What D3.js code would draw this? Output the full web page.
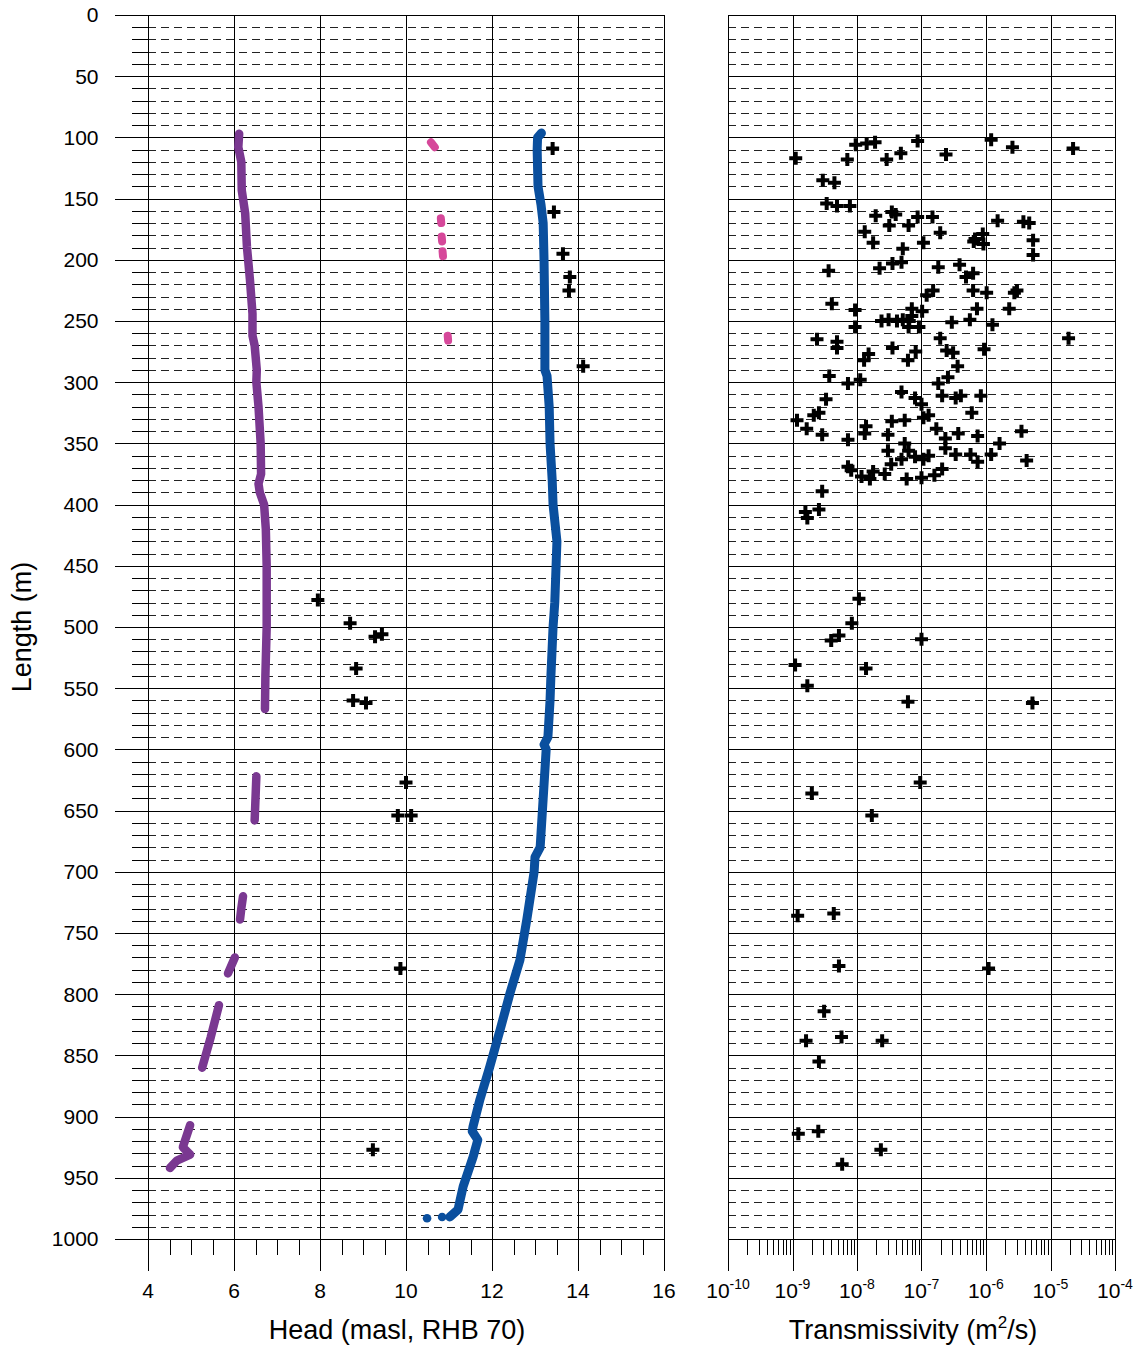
<!DOCTYPE html>
<html>
<head>
<meta charset="utf-8">
<script src="https://cdn.jsdelivr.net/npm/d3@7"></script>
<style>
  body { margin: 0; background: #fff; }
  svg { display: block; font-family: "Liberation Sans", Arial, sans-serif; }
</style>
</head>
<body>
<svg id="chart" width="1143" height="1349"></svg>
<script>
// ---- values ----
// head profiles, each point is [length (m), head (masl)]
var purpleSegments = [
  [[97,6.12],[108,6.10],[120,6.17],[143,6.18],[162,6.26],[189,6.30],[216,6.37],[244,6.43],[262,6.43],
   [270,6.48],[290,6.53],[300,6.52],[320,6.57],[350,6.62],[375,6.63],[383,6.57],[390,6.60],[400,6.70],
   [420,6.74],[450,6.76],[480,6.76],[500,6.76],[540,6.73],[567,6.72]],
  [[622,6.52],[640,6.50],[658,6.48]],
  [[720,6.21],[730,6.17],[739,6.14]],
  [[770,6.02],[783,5.86]],
  [[809,5.65],[835,5.46],[860,5.26]],
  [[907,4.98],[925,4.81],[931,4.98],[936,4.67],[942,4.51]]
];
var blueProfile = [
  [96.5,13.15],[100,13.06],[110,13.05],[140,13.07],[155,13.14],[170,13.19],[200,13.21],[250,13.23],
  [290,13.23],[295,13.28],[320,13.33],[350,13.35],[380,13.40],[400,13.42],[430,13.51],[450,13.49],
  [480,13.46],[500,13.42],[540,13.37],[560,13.35],[590,13.30],[596,13.21],[600,13.26],[640,13.19],
  [680,13.12],[688,13.00],[700,12.98],[739,12.81],[772,12.65],[799,12.42],[829,12.19],[859,11.95],
  [886,11.72],[908,11.56],[912,11.54],[919,11.67],[933,11.56],[957,11.33],[968,11.26],[976,11.21],[982,11.02]
];
var blueLoose = [[982,10.84],[983,10.49]];
var pinkSegments = [
  [[104,10.58],[108,10.67]],
  [[166,10.81],[170,10.82]],
  [[181,10.83],[185,10.84]],
  [[193,10.85],[197,10.86]],
  [[262,10.97],[266,10.98]]
];
var headCrosses = [
  [109,13.41],[161,13.44],[195,13.65],[214,13.81],[225,13.79],[287,14.12],[478,7.95],[497,8.70],
  [508,9.28],[506,9.44],[534,8.84],[560,8.77],[562,9.07],[627,10.00],[654,9.81],[654,10.12],
  [779,9.87],[927,9.23]
];
// transmissivity, each point is [length (m), log10 T (m2/s)]
var transCrosses = [
  [117,-8.95],[118,-8.15],[106,-8.02],[105,-7.85],[104,-7.72],[118,-7.54],[113,-7.32],[103,-7.06],
  [114,-6.62],[102,-5.92],[108,-5.59],[109,-4.65],
  [135,-8.53],[137,-8.35],[154,-8.47],[156,-8.31],[156,-8.11],[164,-7.71],[161,-7.46],[163,-7.40],
  [172,-7.50],[172,-7.20],[165,-7.06],[165,-6.83],[178,-6.71],[177,-7.88],[168,-5.82],[169,-5.42],[170,-5.33],
  [186,-7.75],[191,-7.29],[186,-6.97],[183,-6.17],[179,-6.05],[187,-6.04],[185,-6.19],[184,-5.27],[196,-5.27],
  [209,-8.44],[207,-7.65],[203,-7.45],[202,-7.31],[206,-6.74],[204,-6.41],[214,-6.31],[211,-6.20],
  [229,-6.92],[225,-6.82],[225,-6.20],[227,-5.99],[227,-5.56],[225,-5.52],
  [236,-8.39],[241,-8.03],[240,-7.15],[242,-6.99],[246,-7.15],[250,-7.62],[249,-7.51],[250,-7.38],
  [249,-7.29],[250,-7.19],[255,-7.04],[255,-7.20],[255,-8.03],[251,-6.53],[249,-6.25],[240,-6.14],
  [253,-5.90],[240,-5.64],[264,-4.72],
  [265,-8.62],[267,-8.31],[272,-8.31],[282,-7.89],[277,-7.82],[272,-7.45],[282,-7.21],[275,-7.09],
  [264,-6.71],[274,-6.61],[276,-6.51],[287,-6.44],[273,-6.03],[295,-8.43],[301,-8.14],[298,-7.95],
  [301,-6.74],[296,-6.59],
  [314,-8.48],[325,-8.59],[327,-8.67],[331,-8.93],[338,-8.78],[343,-8.54],[347,-8.14],[336,-7.86],
  [342,-7.88],[343,-7.52],[332,-7.46],[331,-7.26],[308,-7.31],[313,-7.10],[318,-7.00],[329,-6.97],
  [327,-6.89],[338,-6.77],[311,-6.68],[313,-6.47],[311,-6.39],[311,-6.08],[346,-6.63],[342,-6.43],
  [325,-6.22],[344,-6.13],[340,-5.45],
  [356,-7.52],[367,-7.47],[350,-7.26],[356,-7.20],[363,-7.31],[361,-7.10],[363,-6.97],[360,-6.89],
  [354,-6.63],[359,-6.47],[359,-6.24],[365,-6.13],[359,-5.92],[350,-5.79],[364,-5.37],[369,-8.14],
  [372,-8.09],[377,-7.93],[379,-7.80],[373,-7.75],[375,-7.57],[379,-7.23],[378,-7.00],[376,-6.80],[371,-6.68],
  [389,-8.54],[406,-8.80],[411,-8.77],[404,-8.59],
  [477,-7.97],[497,-8.08],[507,-8.28],[511,-8.40],[510,-7.00],[531,-8.96],[534,-7.86],[548,-8.77],
  [561,-7.21],[562,-5.28],[627,-7.02],[636,-8.70],[654,-7.77],[736,-8.92],[734,-8.36],[777,-8.28],
  [779,-5.96],[814,-8.51],[838,-8.79],[835,-8.24],[838,-7.61],[855,-8.59],[914,-8.91],[912,-8.60],
  [927,-7.63],[939,-8.23]
];
var lengthTicks = d3.range(0, 1001, 50);
var headTicks = [4, 6, 8, 10, 12, 14, 16];
var transExp = [-10, -9, -8, -7, -6, -5, -4];

// ---- layout ----
var plotTop = 15, plotBottom = 1239, tickEnd = 1271, minorEnd = 1255;
var frameLeft = 115, minorLeft = 132;
var svg = d3.select("#chart");

var y = d3.scaleLinear().domain([0, 1000]).range([plotTop, plotBottom]);
var xHead = d3.scaleLinear().domain([4, 16]).range([148, 664]);
var xT = d3.scaleLog().domain([1e-10, 1e-4]).range([728, 1115]);

function px(v) { return Math.round(v) + 0.5; }
var minorDepths = d3.range(10, 1000, 10).filter(function(d) { return d % 50 !== 0; });

var grid = svg.append("g").attr("fill", "none");

function panelGrid(x0, x1, outerLeft, innerTick) {
  // major horizontal lines every 50 m
  grid.selectAll(null).data(lengthTicks).enter().append("line")
    .attr("x1", outerLeft).attr("x2", x1)
    .attr("y1", function(d) { return px(y(d)); }).attr("y2", function(d) { return px(y(d)); })
    .attr("stroke", "#000");
  // minor dashed lines every 10 m
  grid.selectAll(null).data(minorDepths).enter().append("line")
    .attr("x1", x0).attr("x2", x1)
    .attr("y1", function(d) { return px(y(d)); }).attr("y2", function(d) { return px(y(d)); })
    .attr("stroke", "#222").attr("stroke-dasharray", "8,5");
  if (innerTick) {
    grid.selectAll(null).data(minorDepths).enter().append("line")
      .attr("x1", minorLeft).attr("x2", x0)
      .attr("y1", function(d) { return px(y(d)); }).attr("y2", function(d) { return px(y(d)); })
      .attr("stroke", "#000");
  }
}
panelGrid(xHead(4), xHead(16), frameLeft, true);
panelGrid(xT(1e-10), xT(1e-4), xT(1e-10), false);

// vertical major lines, running past the x axis as ticks
grid.selectAll(null).data(headTicks).enter().append("line")
  .attr("x1", function(d) { return px(xHead(d)); }).attr("x2", function(d) { return px(xHead(d)); })
  .attr("y1", plotTop).attr("y2", tickEnd).attr("stroke", "#000");
grid.selectAll(null).data(transExp).enter().append("line")
  .attr("x1", function(d) { return px(xT(Math.pow(10, d))); }).attr("x2", function(d) { return px(xT(Math.pow(10, d))); })
  .attr("y1", plotTop).attr("y2", tickEnd).attr("stroke", "#000");

// minor x ticks
var headMinor = d3.range(4.5, 16, 0.5).filter(function(v) { return v % 2 !== 0; });
grid.selectAll(null).data(headMinor).enter().append("line")
  .attr("x1", function(d) { return px(xHead(d)); }).attr("x2", function(d) { return px(xHead(d)); })
  .attr("y1", plotBottom).attr("y2", minorEnd).attr("stroke", "#000");
var transMinor = [];
transExp.slice(0, -1).forEach(function(e) {
  for (var k = 2; k <= 9; k++) transMinor.push(k * Math.pow(10, e));
});
grid.selectAll(null).data(transMinor).enter().append("line")
  .attr("x1", function(d) { return px(xT(d)); }).attr("x2", function(d) { return px(xT(d)); })
  .attr("y1", plotBottom).attr("y2", minorEnd).attr("stroke", "#000");

// ---- head panel marks ----
var line = d3.line()
  .x(function(d) { return xHead(d[1]); })
  .y(function(d) { return y(d[0]); });

var marks = svg.append("g").attr("fill", "none")
  .attr("stroke-linecap", "round").attr("stroke-linejoin", "round");

marks.selectAll(".purple").data(purpleSegments).enter().append("path")
  .attr("class", "purple").attr("d", line)
  .attr("stroke", "#7a3891").attr("stroke-width", 8.5);

marks.selectAll(".pink").data(pinkSegments).enter().append("path")
  .attr("class", "pink").attr("d", line)
  .attr("stroke", "#d6489a").attr("stroke-width", 8);

marks.append("path").datum(blueProfile).attr("d", line)
  .attr("stroke", "#0a4f9e").attr("stroke-width", 9);

svg.selectAll(".bdot").data(blueLoose).enter().append("circle")
  .attr("class", "bdot")
  .attr("cx", function(d) { return xHead(d[1]); })
  .attr("cy", function(d) { return y(d[0]); })
  .attr("r", 4.3).attr("fill", "#0a4f9e");

var cross = "M-6.5,0H6.5M0,-6.5V6.5";
svg.selectAll(".hc").data(headCrosses).enter().append("path")
  .attr("class", "hc").attr("d", cross)
  .attr("transform", function(d) { return "translate(" + xHead(d[1]) + "," + y(d[0]) + ")"; })
  .attr("stroke", "#000").attr("stroke-width", 4).attr("fill", "none");

// ---- transmissivity panel marks ----
svg.selectAll(".tc").data(transCrosses).enter().append("path")
  .attr("class", "tc").attr("d", cross)
  .attr("transform", function(d) { return "translate(" + xT(Math.pow(10, d[1])) + "," + y(d[0]) + ")"; })
  .attr("stroke", "#000").attr("stroke-width", 4).attr("fill", "none");

// ---- labels ----
var labels = svg.append("g").attr("fill", "#000").attr("font-size", 21);

labels.selectAll(null).data(lengthTicks).enter().append("text")
  .attr("x", 98.5).attr("y", function(d) { return y(d); }).attr("dy", "0.35em")
  .attr("text-anchor", "end").text(function(d) { return d; });

labels.selectAll(null).data(headTicks).enter().append("text")
  .attr("x", function(d) { return xHead(d); }).attr("y", 1298)
  .attr("text-anchor", "middle").text(function(d) { return d; });

var tl = labels.selectAll(null).data(transExp).enter().append("text")
  .attr("x", function(d) { return xT(Math.pow(10, d)); }).attr("y", 1298)
  .attr("text-anchor", "middle");
tl.append("tspan").text("10");
tl.append("tspan").attr("font-size", 14).attr("dy", -9).text(function(d) { return String(d); });

svg.append("text")
  .attr("transform", "translate(31," + y(500) + ") rotate(-90)")
  .attr("text-anchor", "middle").attr("font-size", 27).text("Length (m)");

svg.append("text")
  .attr("x", 397).attr("y", 1339).attr("text-anchor", "middle")
  .attr("font-size", 27).text("Head (masl, RHB 70)");

var tt = svg.append("text")
  .attr("x", 913).attr("y", 1339).attr("text-anchor", "middle").attr("font-size", 27);
tt.append("tspan").text("Transmissivity (m");
tt.append("tspan").attr("font-size", 17).attr("dy", -11).text("2");
tt.append("tspan").attr("dy", 11).text("/s)");
</script>
</body>
</html>
